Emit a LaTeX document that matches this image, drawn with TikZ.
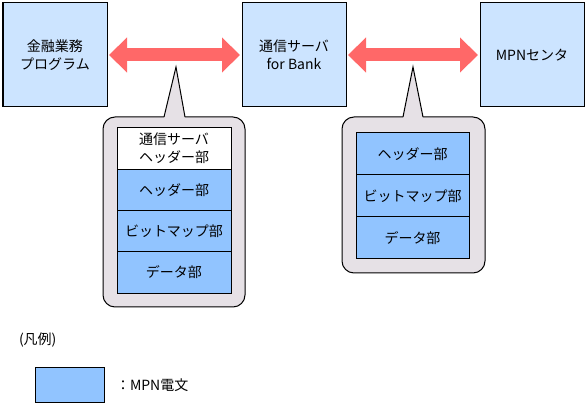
\documentclass[tikz,border=0pt]{standalone}
\usepackage{fontspec}
\setmainfont{Noto Sans CJK JP}
\usetikzlibrary{arrows.meta}
\definecolor{boxblue}{RGB}{204,228,255}
\definecolor{msgblue}{RGB}{145,196,255}
\definecolor{callfill}{RGB}{230,225,230}
\definecolor{arrred}{RGB}{255,104,104}
\begin{document}
\begin{tikzpicture}[x=0.75pt,y=-0.75pt,
  every node/.style={font=\fontsize{10.5}{13.5}\selectfont, align=center, inner sep=0pt, outer sep=0pt},
  topbox/.style={draw=black, line width=0.75pt, fill=boxblue, minimum width=78pt, minimum height=78pt},
  msgbox/.style={draw=black, line width=0.75pt, fill=msgblue, minimum width=85.5pt, minimum height=31pt},
  hdrbox/.style={msgbox, fill=white},
  msgboxb/.style={msgbox, minimum width=84.75pt, minimum height=31.5pt},
  fatarrow/.style={draw=arrred, line width=9.75pt, {Triangle[length=13.5pt,width=25.5pt,fill=arrred]}-{Triangle[length=13.5pt,width=25.5pt,fill=arrred]}},
  callout/.style={draw=black, line width=0.75pt, fill=callfill, rounded corners=9pt}
]
\useasboundingbox (0,0) rectangle (587,409);

% top boxes
\node[topbox] (fin) at (55,55) {金融業務\\プログラム};
\node[topbox] (srv) at (294,55) {通信サーバ\\for Bank};
\node[topbox] (mpn) at (532,55) {MPNセンタ};

% arrows
\draw[fatarrow] ([xshift=1.5pt]fin.east) -- ([xshift=-1.5pt]srv.west);
\draw[fatarrow] ([xshift=1.5pt]srv.east) -- ([xshift=-1.5pt]mpn.west);

% callout 1
\filldraw[callout] (103,117) rectangle (245,307);
\fill[callfill] (164,118) -- (176,67) -- (185,118) -- cycle;
\draw[line width=0.75pt] (164,117) -- (176,67) -- (185,117);
\node[hdrbox] (h1) at (174,148.5) {通信サーバ\\ヘッダー部};
\node[msgbox] (m1) at (174,190) {ヘッダー部};
\node[msgbox] (m2) at (174,231.5) {ビットマップ部};
\node[msgbox] (m3) at (174,272.5) {データ部};

% callout 2
\filldraw[callout] (342,117) rectangle (485,273);
\fill[callfill] (403,118) -- (413,67) -- (423,118) -- cycle;
\draw[line width=0.75pt] (403,117) -- (413,67) -- (423,117);
\node[msgboxb] (n1) at (412.5,154) {ヘッダー部};
\node[msgboxb] (n2) at (412.5,196) {ビットマップ部};
\node[msgboxb] (n3) at (412.5,238) {データ部};

% legend
\node[anchor=west] (leg) at (19,340) {(凡例)};
\node[draw=black, line width=0.75pt, fill=msgblue, minimum width=51.75pt, minimum height=26.25pt] (legbox) at (69.5,385.5) {};
\node[anchor=west] (legtxt) at (116,385.5) {：MPN電文};
\end{tikzpicture}
\end{document}
